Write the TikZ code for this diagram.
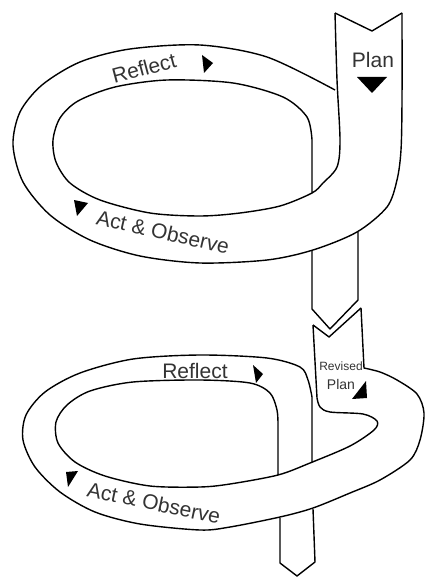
\documentclass[tikz,border=0pt]{standalone}
\usepackage{fontspec}
\setmainfont{Liberation Sans}
\begin{document}
\begin{tikzpicture}[
  x=1pt, y=-1pt,
  edge/.style={line width=1.4pt, line join=round},
  lbl/.style={font=\fontsize{21}{21}\selectfont,
    text=black!80, inner sep=0pt},
  tiny/.style={font=\fontsize{12}{12}\selectfont,
    text=black!80, inner sep=0pt}
]
\useasboundingbox (0,0) rectangle (424,577);

% upper loop
\draw[edge] plot[smooth] coordinates {
  (402,13) (402,100) (401,150) (397,180) (387,207)
  (357,232) (313,250) (267,260) (200,263) (140,256)
  (90,240) (50,215) (23,182) (13,145) (20,112)
  (42,85) (80,62) (130,49) (200,45) (267,57) (335,90)};
\draw[edge] plot[smooth] coordinates {
  (335,13) (337,80) (340,140) (337,167) (323,183)
  (312,193) (280,206) (240,213) (200,216) (150,213)
  (100,200) (70,183) (56,162) (53,140) (60,118)
  (78,101) (115,87) (167,80) (233,83) (283,97)
  (307,117) (312,140)} -- (312,193);
\draw[edge] (335,13) -- (372,31) -- (402,13);
\draw[edge] (312,251) -- (312,309) -- (330,329)
  -- (358,300) -- (358,232);

% lower loop
\draw[edge] (313,325) -- (329,337) -- (361,308);
\draw[edge] (361,308) -- (364,368) -- plot[smooth] coordinates {
  (364,368) (380,372) (397,380) (417,394) (424,413)
  (420,440) (410,460) (380,480) (350,493) (313,508)
  (280,517) (230,527) (200,530) (140,524) (95,512)
  (60,492) (35,467) (23,440) (26,415) (45,392)
  (80,373) (133,359) (200,355) (267,358) (300,367)
  (308,380) (312,397)} -- (312,462);
\draw[edge] (313,325) -- (317,398) -- plot[smooth] coordinates {
  (317,398) (320,407) (330,412) (363,414) (377,421)
  (374,430) (350,446) (310,463) (278,475) (230,484)
  (200,487) (150,486) (105,476) (75,462) (58,443)
  (56,422) (67,405) (90,391) (133,382) (200,380)
  (250,383) (270,393) (277,410) (278,425)} -- (278,475);
\draw[edge] (280,518) -- (280,563) -- (297,576)
  -- (315,562) -- (313,509);

% direction marks
\foreach \ax/\ay/\bx/\by/\cx/\cy in {
  357/77/387/77/372/93, 202/55/213/63/204/73,
  74/200/88/203/77/216, 253/365/263/374/256/383,
  352/399/366/381/367/398, 66/472/78/471/68/487}{
  \fill (\ax,\ay) -- (\bx,\by) -- (\cx,\cy) -- cycle;
}

\node[lbl, rotate=15] (reflectA) at (144,68) {Reflect};
\node[lbl] (planA) at (373,60) {Plan};
\node[lbl, rotate=-13] (actA) at (163,232) {Act \& Observe};
\node[lbl, anchor=base] (reflectB) at (195,378) {Reflect};
\node[tiny] (revised) at (341,366) {Revised};
\node[tiny, font=\fontsize{14}{14}\selectfont] (planB)
  at (341,384) {Plan};
\node[lbl, rotate=-12] (actB) at (154,503) {Act \& Observe};
\end{tikzpicture}
\end{document}
